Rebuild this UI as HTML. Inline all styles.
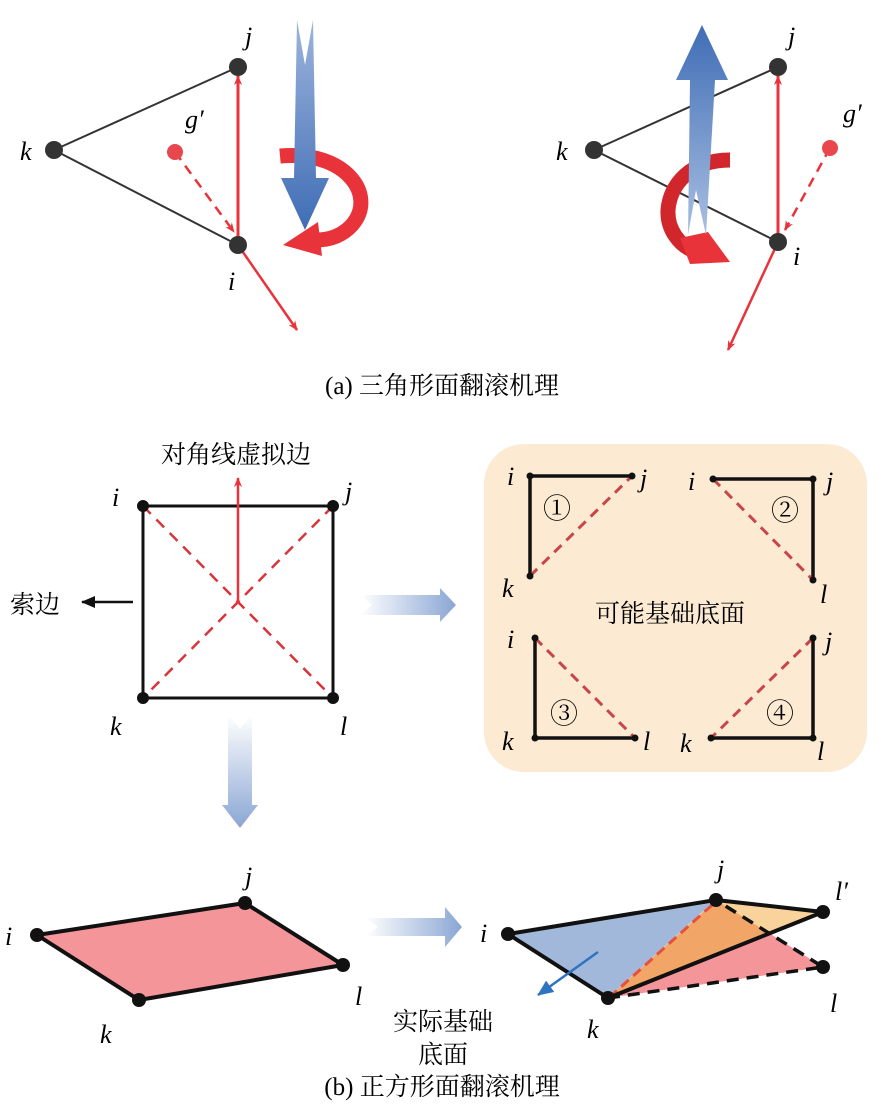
<!DOCTYPE html>
<html><head><meta charset="utf-8"><style>
html,body{margin:0;padding:0;background:#fff}
svg{display:block}
text{font-family:"Liberation Serif","Noto Serif CJK SC",serif}
.it{font-style:italic;font-size:26px}
.cj{font-size:25px}
</style></head><body>
<svg width="885" height="1113" viewBox="0 0 885 1113" xmlns="http://www.w3.org/2000/svg">
<defs>
<linearGradient id="bd" x1="0" y1="0" x2="0" y2="1"><stop offset="0" stop-color="#9db4dc"/><stop offset="1" stop-color="#3f6db5"/></linearGradient>
<linearGradient id="bu" x1="0" y1="1" x2="0" y2="0"><stop offset="0" stop-color="#a9bfe2"/><stop offset="1" stop-color="#3f6db5"/></linearGradient>
<linearGradient id="gr" x1="0" y1="0" x2="1" y2="0"><stop offset="0" stop-color="#fff"/><stop offset="1" stop-color="#8aa6d4"/></linearGradient>
<linearGradient id="gd" x1="0" y1="0" x2="0" y2="1"><stop offset="0" stop-color="#fff"/><stop offset="1" stop-color="#8aa6d4"/></linearGradient>
<marker id="ar" markerWidth="10" markerHeight="10" refX="9" refY="5" orient="auto" markerUnits="userSpaceOnUse"><path d="M0,1 L10,5 L0,9 L3,5Z" fill="#e8333a"/></marker>
<marker id="ak" markerWidth="14" markerHeight="12" refX="13" refY="6" orient="auto" markerUnits="userSpaceOnUse"><path d="M0,0 L14,6 L0,12Z" fill="#111"/></marker>
<marker id="ab" markerWidth="16" markerHeight="14" refX="15" refY="7" orient="auto" markerUnits="userSpaceOnUse"><path d="M0,0 L16,7 L0,14Z" fill="#2e74c0"/></marker>
</defs>

<!-- (a) left -->
<line x1="54" y1="150" x2="238" y2="67" stroke="#333" stroke-width="2"/>
<line x1="54" y1="150" x2="238" y2="245" stroke="#333" stroke-width="2"/>
<line x1="238" y1="245" x2="238" y2="76" stroke="#e8333a" stroke-width="3" marker-end="url(#ar)"/>
<line x1="175" y1="152" x2="234" y2="232" stroke="#e8333a" stroke-width="2.5" stroke-dasharray="10,7" marker-end="url(#ar)"/>
<line x1="238" y1="245" x2="297" y2="330" stroke="#e8333a" stroke-width="2.5" marker-end="url(#ar)"/>
<circle cx="54" cy="150" r="9" fill="#333"/><circle cx="238" cy="67" r="9" fill="#333"/><circle cx="238" cy="245" r="9" fill="#333"/>
<circle cx="175" cy="152" r="8" fill="#e8474d"/>
<path d="M280,156 C345,150 378,195 352,225 C342,236 330,240 316,240" fill="none" stroke="#e8333a" stroke-width="15"/>
<path d="M318,222 L322,256 L283,245Z" fill="#e8333a"/>
<path d="M297,20 L305,65 L313,20 L316,178 L329,178 L305,230 L281,178 L294,178Z" fill="url(#bd)"/>
<text class="it" x="20" y="160">k</text><text class="it" x="245" y="45">j</text><text class="it" x="228" y="290">i</text><text class="it" x="185" y="128">g′</text>

<!-- (a) right -->
<line x1="594" y1="150" x2="778" y2="67" stroke="#333" stroke-width="2"/>
<line x1="594" y1="150" x2="778" y2="242" stroke="#333" stroke-width="2"/>
<line x1="778" y1="242" x2="778" y2="76" stroke="#e8333a" stroke-width="3" marker-end="url(#ar)"/>
<line x1="830" y1="148" x2="785" y2="230" stroke="#e8333a" stroke-width="2.5" stroke-dasharray="10,7" marker-end="url(#ar)"/>
<line x1="778" y1="242" x2="728" y2="350" stroke="#e8333a" stroke-width="2.5" marker-end="url(#ar)"/>
<circle cx="594" cy="150" r="9" fill="#333"/><circle cx="778" cy="67" r="9" fill="#333"/><circle cx="778" cy="242" r="9" fill="#333"/>
<circle cx="830" cy="148" r="8" fill="#e8474d"/>
<path d="M730,160 C690,160 670,185 668,210 C667,230 680,245 692,250" fill="none" stroke="#d0262c" stroke-width="15"/>
<path d="M680,238 L708,232 L730,262 L690,264Z" fill="#e8333a"/>
<path d="M688,235 L696,190 L706,235 L715,80 L728,80 L702,25 L676,80 L690,80Z" fill="url(#bu)"/>
<text class="it" x="556" y="160">k</text><text class="it" x="788" y="45">j</text><text class="it" x="793" y="265">i</text><text class="it" x="843" y="122">g′</text>
<text class="cj" x="442" y="394" text-anchor="middle">(a) 三角形面翻滚机理</text>

<!-- (b) square -->
<rect x="143" y="506" width="190" height="192" fill="none" stroke="#111" stroke-width="3"/>
<line x1="143" y1="506" x2="333" y2="698" stroke="#d9343a" stroke-width="2.5" stroke-dasharray="11,8"/>
<line x1="333" y1="506" x2="143" y2="698" stroke="#d9343a" stroke-width="2.5" stroke-dasharray="11,8"/>
<line x1="238" y1="603" x2="238" y2="478" stroke="#e8333a" stroke-width="2.5" marker-end="url(#ar)"/>
<circle cx="143" cy="506" r="6" fill="#111"/><circle cx="333" cy="506" r="6" fill="#111"/><circle cx="143" cy="698" r="6" fill="#111"/><circle cx="333" cy="698" r="6" fill="#111"/>
<text class="cj" x="236" y="463" text-anchor="middle">对角线虚拟边</text>
<text class="it" x="112" y="506">i</text><text class="it" x="345" y="500">j</text><text class="it" x="110" y="735">k</text><text class="it" x="340" y="735">l</text>
<text class="cj" x="10" y="613">索边</text>
<line x1="133" y1="602" x2="82" y2="602" stroke="#111" stroke-width="2.5" marker-end="url(#ak)"/>
<path d="M360,595 L440,595 L440,588 L456,605 L440,622 L440,615 L360,615 L372,605Z" fill="url(#gr)"/>
<path d="M228,715 L228,805 L222,805 L240,828 L258,805 L252,805 L252,715 L240,728Z" fill="url(#gd)"/>

<!-- box -->
<rect x="484" y="444" width="383" height="328" rx="40" fill="#fcebd2"/>
<g stroke="#111" stroke-width="3.5" fill="none">
<path d="M530,576 L530,476 L632,476"/><path d="M713,479 L813,479 L813,580"/>
<path d="M535,638 L535,738 L635,738"/><path d="M813,638 L813,738 L711,738"/></g>
<g stroke="#c8454a" stroke-width="3" stroke-dasharray="10,7">
<line x1="530" y1="576" x2="632" y2="476"/><line x1="713" y1="479" x2="813" y2="580"/>
<line x1="535" y1="638" x2="635" y2="738"/><line x1="813" y1="638" x2="711" y2="738"/></g>
<g fill="#111"><circle cx="530" cy="476" r="3.5"/><circle cx="632" cy="476" r="3.5"/><circle cx="530" cy="576" r="3.5"/>
<circle cx="713" cy="479" r="3.5"/><circle cx="813" cy="479" r="3.5"/><circle cx="813" cy="580" r="3.5"/>
<circle cx="535" cy="638" r="3.5"/><circle cx="535" cy="738" r="3.5"/><circle cx="635" cy="738" r="3.5"/>
<circle cx="813" cy="638" r="3.5"/><circle cx="813" cy="738" r="3.5"/><circle cx="711" cy="738" r="3.5"/></g>
<text class="it" x="507" y="485">i</text><text class="it" x="640" y="487">j</text><text class="it" x="502" y="597">k</text>
<text class="it" x="688" y="490">i</text><text class="it" x="826" y="490">j</text><text class="it" x="820" y="603">l</text>
<text class="it" x="507" y="648">i</text><text class="it" x="502" y="750">k</text><text class="it" x="643" y="750">l</text>
<text class="it" x="825" y="650">j</text><text class="it" x="680" y="752">k</text><text class="it" x="817" y="760">l</text>
<text x="557" y="518" font-size="28" text-anchor="middle">①</text><text x="785" y="520" font-size="28" text-anchor="middle">②</text>
<text x="564" y="723" font-size="28" text-anchor="middle">③</text><text x="780" y="723" font-size="28" text-anchor="middle">④</text>
<text class="cj" x="670" y="622" text-anchor="middle">可能基础底面</text>

<!-- bottom left -->
<polygon points="37,935 245,903 343,965 139,1000" fill="#f4959a" stroke="#111" stroke-width="4" stroke-linejoin="round"/>
<g fill="#111"><circle cx="37" cy="935" r="7"/><circle cx="245" cy="903" r="7"/><circle cx="343" cy="965" r="7"/><circle cx="139" cy="1000" r="7"/></g>
<text class="it" x="5" y="945">i</text><text class="it" x="245" y="885">j</text><text class="it" x="355" y="1005">l</text><text class="it" x="100" y="1043">k</text>
<path d="M365,918 L445,918 L445,907 L462,927 L445,947 L445,936 L365,936 L378,927Z" fill="url(#gr)"/>

<!-- bottom right -->
<polygon points="608,998 823,967 769,933" fill="#f4959a"/>
<polygon points="716,900 823,912 769,933" fill="#f9d39b"/>
<polygon points="716,900 769,933 608,998" fill="#f1a566"/>
<polygon points="508,934 712,903 608,998" fill="#a2b8da"/>
<line x1="712" y1="905" x2="612" y2="995" stroke="#e8503a" stroke-width="3" stroke-dasharray="10,6"/>
<path d="M608,998 L823,967 L716,900" fill="none" stroke="#111" stroke-width="3.5" stroke-dasharray="12,8"/>
<path d="M608,998 L508,934 L716,900 L823,912 L608,998" fill="none" stroke="#111" stroke-width="4" stroke-linejoin="round"/>
<g fill="#111"><circle cx="508" cy="934" r="7"/><circle cx="716" cy="900" r="7"/><circle cx="823" cy="912" r="7"/><circle cx="823" cy="967" r="7"/><circle cx="608" cy="998" r="7"/></g>
<line x1="598" y1="952" x2="538" y2="995" stroke="#2e74c0" stroke-width="2.5" marker-end="url(#ab)"/>
<text class="it" x="480" y="942">i</text><text class="it" x="717" y="878">j</text><text class="it" x="835" y="900">l′</text><text class="it" x="830" y="1012">l</text><text class="it" x="587" y="1038">k</text>
<text class="cj" x="443" y="1030" text-anchor="middle">实际基础</text>
<text class="cj" x="443" y="1063" text-anchor="middle">底面</text>
<text class="cj" x="442" y="1095" text-anchor="middle">(b) 正方形面翻滚机理</text>
</svg>
</body></html>
